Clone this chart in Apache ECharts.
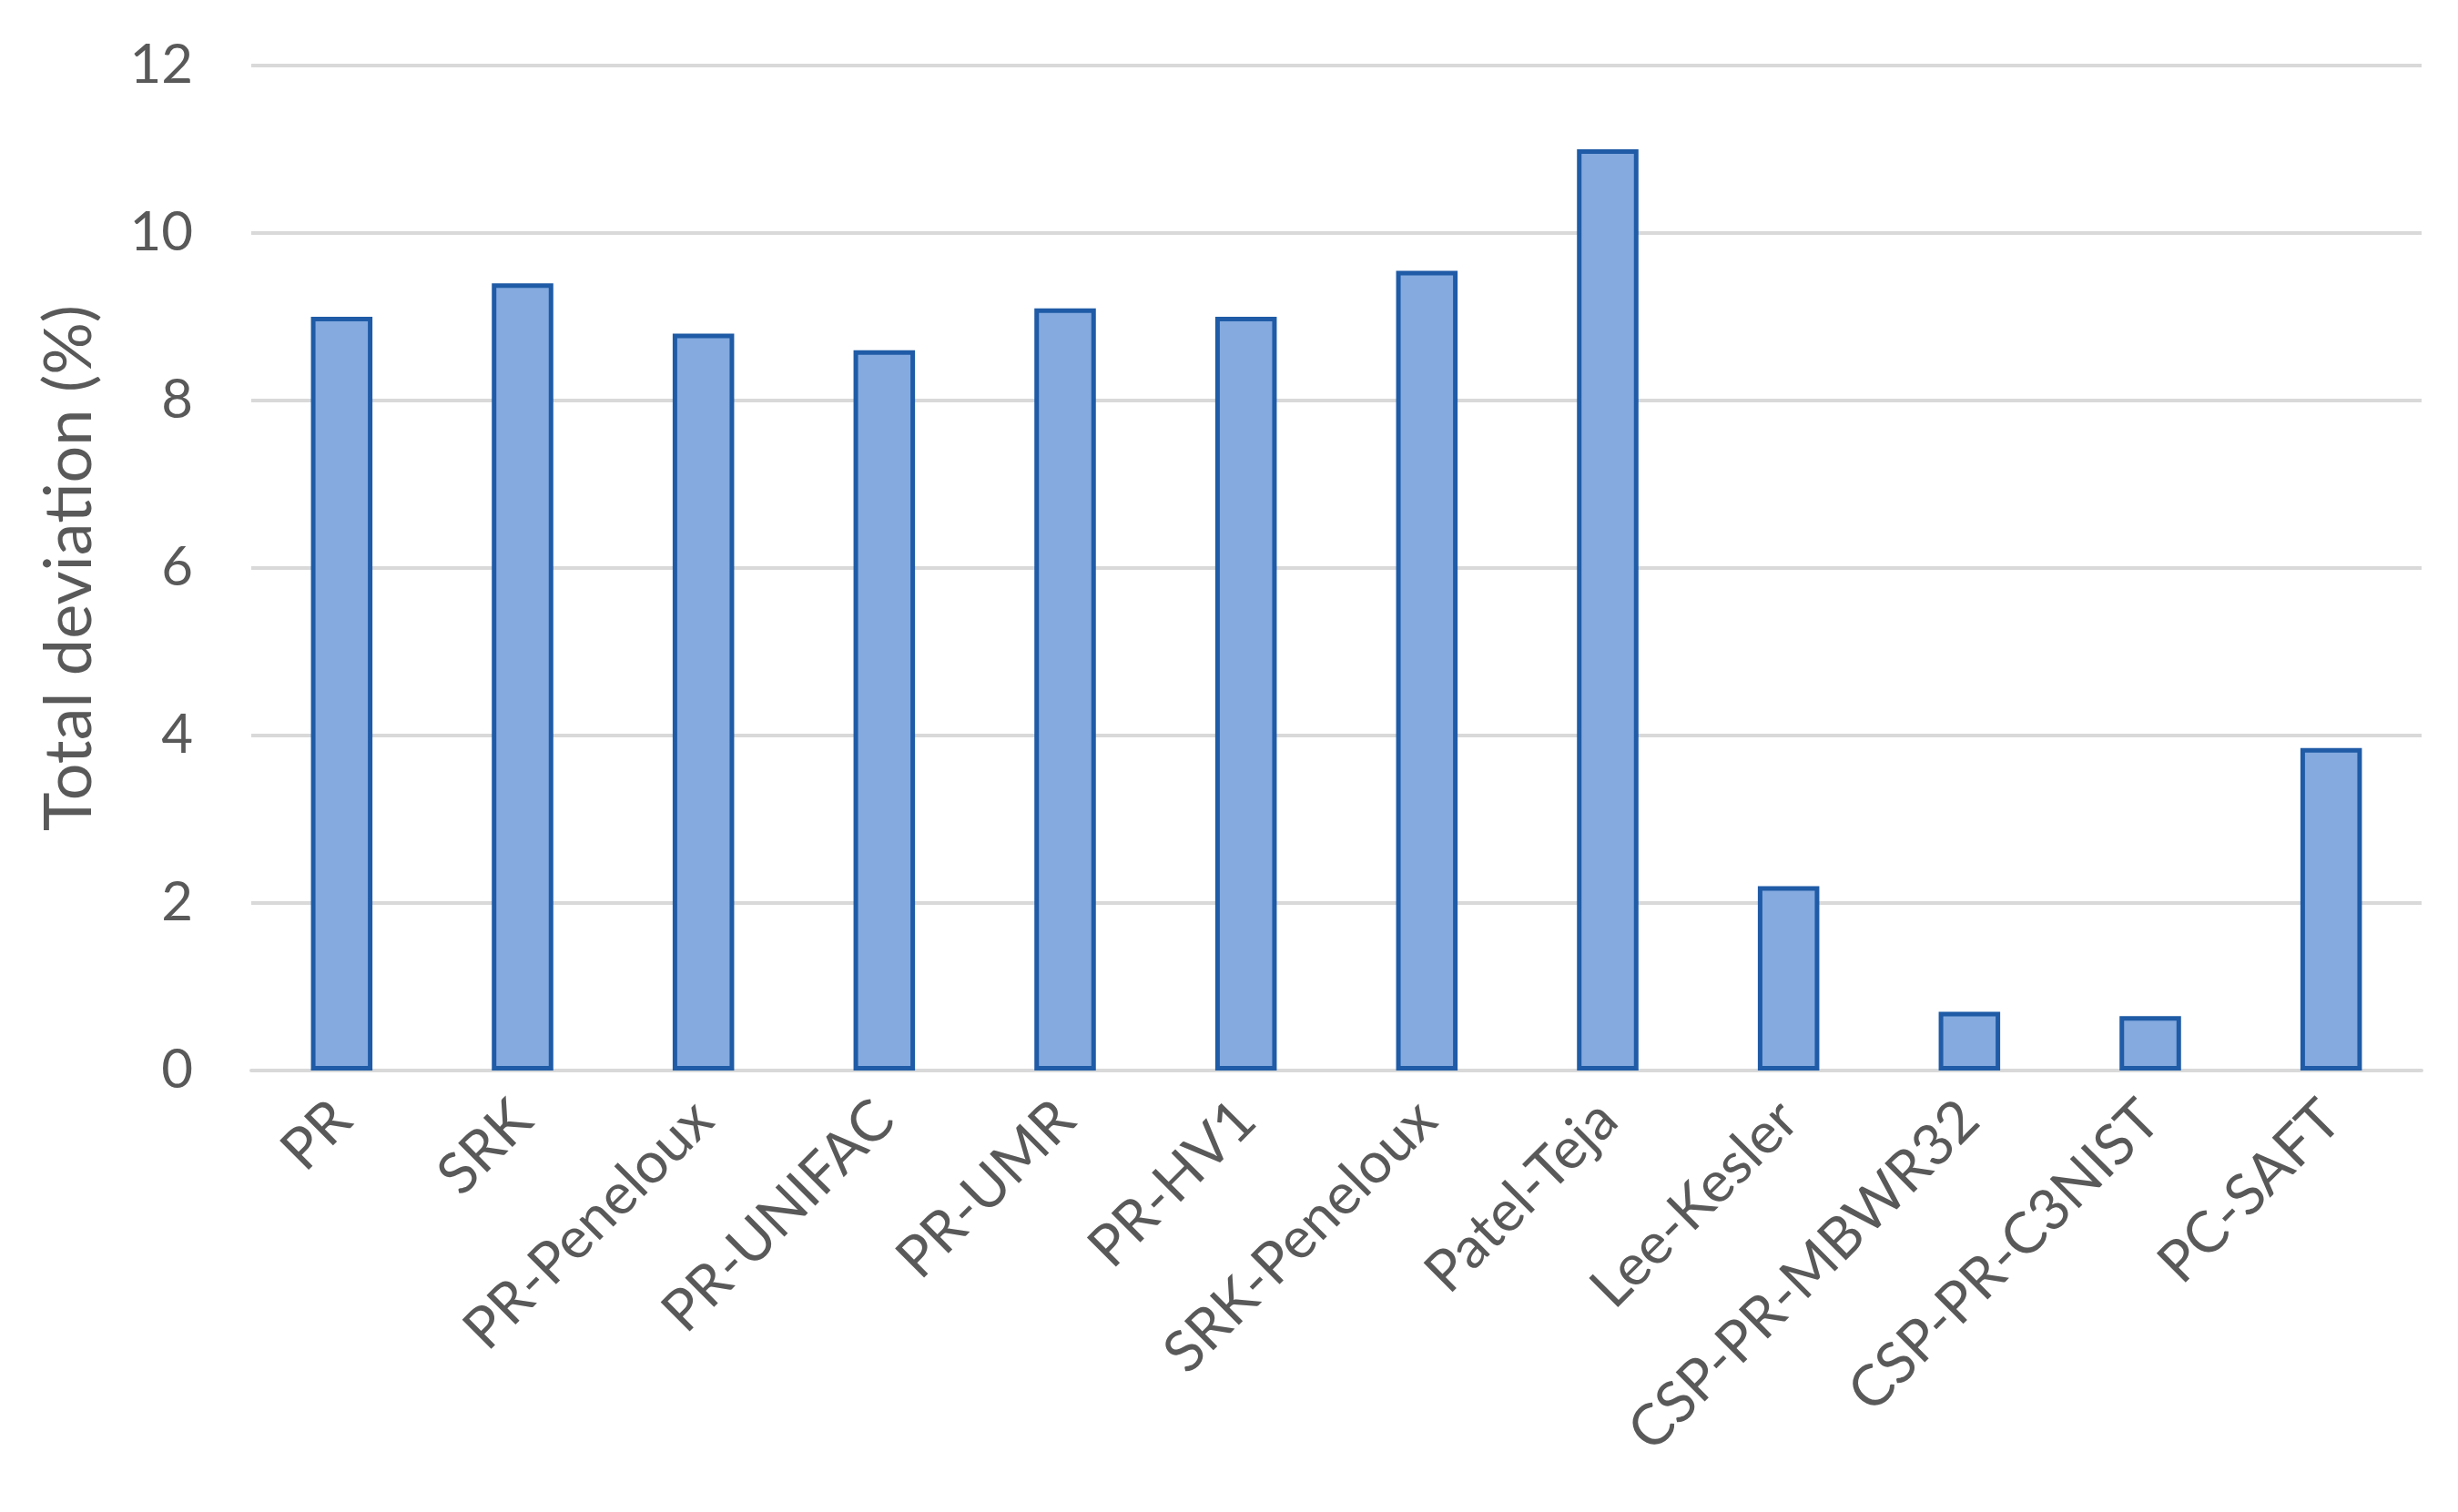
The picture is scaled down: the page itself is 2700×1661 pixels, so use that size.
<!DOCTYPE html>
<html>
<head>
<meta charset="utf-8">
<script src="https://cdn.jsdelivr.net/npm/echarts@6/dist/echarts.min.js"></script>
<style>
html,body{margin:0;padding:0;background:#fff;}
#chart{width:2700px;height:1661px;}
</style>
</head>
<body>
<div id="chart"></div>
<script>
const categories = ["PR","SRK","PR-Peneloux","PR-UNIFAC","PR-UMR","PR-HV1","SRK-Peneloux","Patel-Teja","Lee-Kesler","CSP-PR-MBWR32","CSP-PR-C3NIST","PC-SAFT"];
const deviation = [9.0, 9.4, 8.8, 8.6, 9.1, 9.0, 9.55, 11.0, 2.2, 0.7, 0.65, 3.85];
const yAxisName = "Total deviation (%)";

const chart = echarts.init(document.getElementById('chart'));
chart.setOption({
  backgroundColor: '#ffffff',
  animation: false,
  grid: {left: 276, right: 40, top: 72, bottom: 485},
  xAxis: {
    type: 'category',
    data: categories,
    axisLine: {show: true, lineStyle: {color: '#d9d9d9', width: 4}},
    axisTick: {show: false},
    axisLabel: {rotate: 45, interval: 0, margin: 44, fontSize: 63, color: '#595959', fontFamily: 'Lato'}
  },
  yAxis: {
    type: 'value',
    min: 0, max: 12, interval: 2,
    name: yAxisName,
    nameLocation: 'middle',
    nameGap: 163,
    nameTextStyle: {fontSize: 72, color: '#595959', fontFamily: 'Lato'},
    axisLine: {show: false},
    axisTick: {show: false},
    axisLabel: {fontSize: 60, color: '#595959', margin: 64, fontFamily: 'Lato'},
    splitLine: {lineStyle: {color: '#d9d9d9', width: 4}}
  },
  series: [{
    type: 'bar',
    data: deviation,
    barWidth: '34%',
    itemStyle: {color: '#84aadf', borderColor: '#1f5ba6', borderWidth: 5}
  }]
});
</script>
</body>
</html>
